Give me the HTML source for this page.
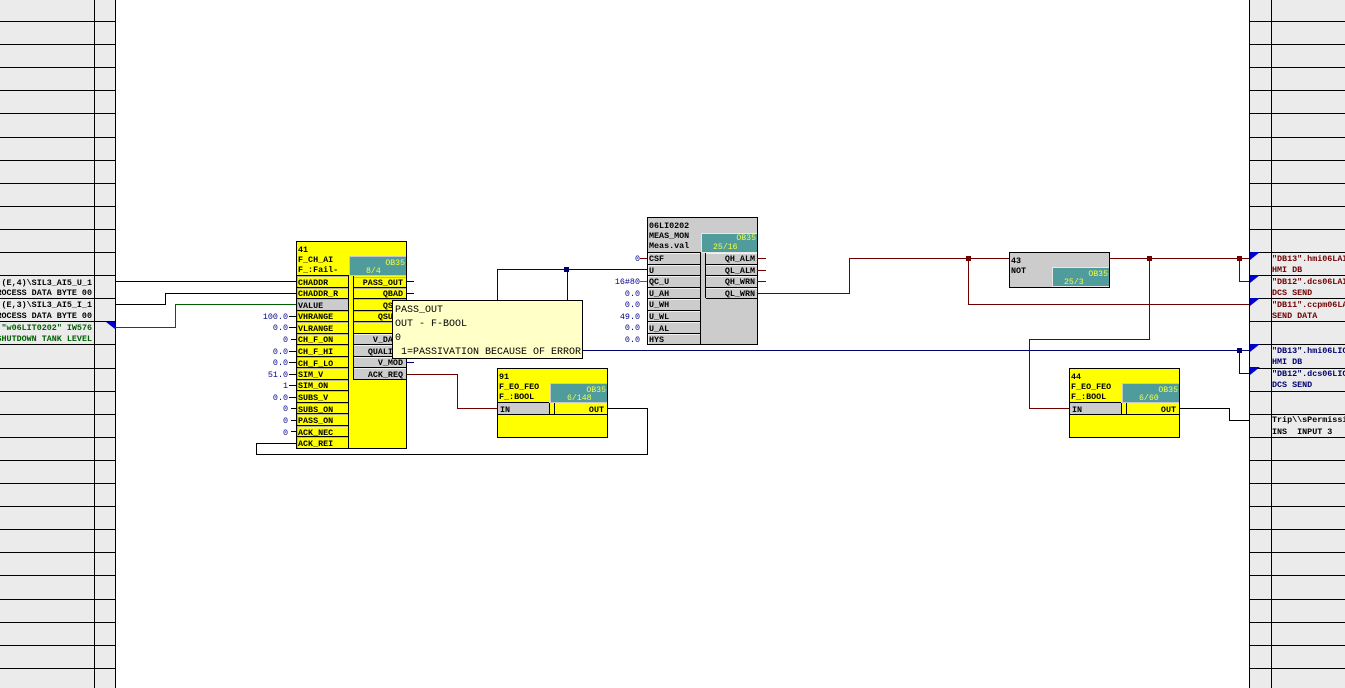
<!DOCTYPE html>
<html>
<head>
<meta charset="utf-8">
<style>
html,body{margin:0;padding:0;background:#fff;overflow:hidden}
svg{display:block;position:absolute;left:0;top:0}
text{font-family:"Liberation Mono",monospace;font-size:8.4px;white-space:pre}
.b{font-weight:bold;fill:#000}
.n{fill:#000}
.v{fill:#000090;text-anchor:end}
.e{text-anchor:end}
.ob{fill:#f4ff40;font-size:8.2px}
.tt{font-size:10px;fill:#000}
.grn{fill:#006000;font-weight:bold}
.red{fill:#700000;font-weight:bold}
.blu{fill:#000070;font-weight:bold}
.l{fill:none;stroke-width:1;shape-rendering:crispEdges}
</style>
</head>
<body>
<svg width="1345" height="688" viewBox="0 0 1345 688" xmlns="http://www.w3.org/2000/svg">
<rect width="1345" height="688" fill="#fff"/>
<rect x="0" y="0" width="115" height="688" fill="#ebebeb"/>
<rect x="1250" y="0" width="95" height="688" fill="#ebebeb"/>
<path class="l" stroke="#000" d="M94.5 0V688M115.5 0V688M1249.5 0V688M1271.5 0V688"/>
<path class="l" stroke="#000" d="M0 21.5H115M0 44.5H115M0 67.5H115M0 90.5H115M0 113.5H115M0 137.5H115M0 160.5H115M0 183.5H115M0 206.5H115M0 229.5H115M0 252.5H115M0 275.5H115M0 298.5H115M0 321.5H115M0 344.5H115M0 368.5H115M0 391.5H115M0 414.5H115M0 437.5H115M0 460.5H115M0 483.5H115M0 506.5H115M0 529.5H115M0 552.5H115M0 575.5H115M0 599.5H115M0 622.5H115M0 645.5H115M0 668.5H115"/>
<path class="l" stroke="#000" d="M1249 21.5H1345M1249 44.5H1345M1249 67.5H1345M1249 90.5H1345M1249 113.5H1345M1249 137.5H1345M1249 160.5H1345M1249 183.5H1345M1249 206.5H1345M1249 229.5H1345M1249 252.5H1345M1249 275.5H1345M1249 298.5H1345M1249 321.5H1345M1249 344.5H1345M1249 368.5H1345M1249 391.5H1345M1249 414.5H1345M1249 437.5H1345M1249 460.5H1345M1249 483.5H1345M1249 506.5H1345M1249 529.5H1345M1249 552.5H1345M1249 575.5H1345M1249 599.5H1345M1249 622.5H1345M1249 645.5H1345M1249 668.5H1345"/>

<!-- left labels -->
<text class="b e" x="92" y="285">0 (E,4)\SIL3_AI5_U_1</text>
<text class="b e" x="92" y="295">PROCESS DATA BYTE 00</text>
<text class="b e" x="92" y="307">0 (E,3)\SIL3_AI5_I_1</text>
<text class="b e" x="92" y="318">PROCESS DATA BYTE 00</text>
<text class="grn e" x="92" y="330">"w06LIT0202" IW576</text>
<text class="grn e" x="92" y="341">SHUTDOWN TANK LEVEL</text>

<!-- right labels -->
<text class="red" x="1272" y="261">"DB13".hmi06LAI</text>
<text class="red" x="1272" y="272">HMI DB</text>
<text class="red" x="1272" y="284">"DB12".dcs06LAI</text>
<text class="red" x="1272" y="295">DCS SEND</text>
<text class="red" x="1272" y="307">"DB11".ccpm06LA</text>
<text class="red" x="1272" y="318">SEND DATA</text>
<text class="blu" x="1272" y="353">"DB13".hmi06LIC</text>
<text class="blu" x="1272" y="364">HMI DB</text>
<text class="blu" x="1272" y="376">"DB12".dcs06LIC</text>
<text class="blu" x="1272" y="387">DCS SEND</text>
<text class="b" x="1272" y="422">Trip\\sPermissi</text>
<text class="b" x="1272" y="434">INS  INPUT 3</text>

<!-- wires -->
<path class="l" stroke="#000" d="M115 281.5H296M115 304.5H165.5V293.5H296"/>
<path class="l" stroke="#006000" d="M115 327.5H175.5V304.5H296"/>
<path class="l" stroke="#000" d="M607 408.5H647.5V454.5H256.5V443.5H296"/>
<path class="l" stroke="#700000" d="M406 374.5H457.5V408.5H497"/>
<path class="l" stroke="#000070" d="M497.5 300V269.5H647M567.5 269V300M583 350.5H1249M1239.5 350V373.5H1249"/>
<path class="l" stroke="#700000" d="M757 293.5H849.5V258.5H1009M968.5 258V304.5H1249M1109 258.5H1249M1239.5 258V281.5H1249M1149.5 258V339.5H1029.5V408.5H1069"/>
<path class="l" stroke="#000" d="M1179 408.5H1229.5V420.5H1249"/>

<!-- junctions -->
<rect x="564" y="267" width="5" height="5" fill="#000070"/>
<rect x="1237" y="348" width="5" height="5" fill="#000070"/>
<rect x="966" y="256" width="5" height="5" fill="#700000"/>
<rect x="1147" y="256" width="5" height="5" fill="#700000"/>
<rect x="1237" y="256" width="5" height="5" fill="#700000"/>

<!-- arrowheads -->
<path fill="#0000c8" d="M106 322H115V329ZM1250 252H1260L1250 260ZM1250 275H1260L1250 283ZM1250 298H1260L1250 306ZM1250 344H1260L1250 352ZM1250 367H1260L1250 375Z"/>

<!-- block 41 -->
<rect x="296.5" y="241.5" width="110" height="207" fill="#ff0" stroke="#000"/>
<rect x="349" y="256" width="57" height="20" fill="#c8c8c8"/>
<rect x="350" y="257" width="56" height="18" fill="#509b9b"/>
<text class="b" x="298" y="252">41</text>
<text class="b" x="298" y="262">F_CH_AI</text>
<text class="b" x="298" y="272">F_:Fail-</text>
<text class="ob e" x="405" y="265">OB35</text>
<text class="ob" x="366" y="273">8/4</text>
<rect x="297" y="300" width="51" height="10" fill="#ccc"/>
<rect x="354" y="334" width="52" height="45" fill="#ccc"/>
<path class="l" stroke="#b8b8a0" d="M297.5 276V448M297 276.5H348M297 288.5H348M297 299.5H348M297 311.5H348M297 322.5H348M297 334.5H348M297 345.5H348M297 357.5H348M297 368.5H348M297 380.5H348M297 391.5H348M297 403.5H348M297 414.5H348M297 426.5H348M297 437.5H348M354 277.5H406M354 288.5H406M354 299.5H406M354 311.5H406M354 322.5H406"/>
<path class="l" stroke="#f0f0f0" d="M354 334.5H406M354 345.5H406M354 357.5H406M354 368.5H406"/>
<path class="l" stroke="#000" d="M348.5 276V448M353.5 276V380M297 275.5H349M297 287.5H348M297 298.5H348M297 310.5H348M297 321.5H348M297 333.5H348M297 344.5H348M297 356.5H348M297 367.5H348M297 379.5H348M297 390.5H348M297 402.5H348M297 413.5H348M297 425.5H348M297 436.5H348M353 287.5H406M353 298.5H406M353 310.5H406M353 321.5H406M353 333.5H406M353 344.5H406M353 356.5H406M353 367.5H406M353 379.5H406"/>
<text class="b" x="298" y="285">CHADDR</text>
<text class="b" x="298" y="296">CHADDR_R</text>
<text class="b" x="298" y="308">VALUE</text>
<text class="b" x="298" y="319">VHRANGE</text>
<text class="b" x="298" y="331">VLRANGE</text>
<text class="b" x="298" y="342">CH_F_ON</text>
<text class="b" x="298" y="354">CH_F_HI</text>
<text class="b" x="298" y="366">CH_F_LO</text>
<text class="b" x="298" y="377">SIM_V</text>
<text class="b" x="298" y="388">SIM_ON</text>
<text class="b" x="298" y="400">SUBS_V</text>
<text class="b" x="298" y="412">SUBS_ON</text>
<text class="b" x="298" y="423">PASS_ON</text>
<text class="b" x="298" y="435">ACK_NEC</text>
<text class="b" x="298" y="446">ACK_REI</text>
<text class="b e" x="403" y="285">PASS_OUT</text>
<text class="b e" x="403" y="296">QBAD</text>
<text class="b e" x="403" y="308">QSIM</text>
<text class="b e" x="403" y="319">QSUBS</text>
<text class="b e" x="403" y="342">V_DATA</text>
<text class="b e" x="403" y="354">QUALITY</text>
<text class="b e" x="403" y="365">V_MOD</text>
<text class="b e" x="403" y="377">ACK_REQ</text>
<path class="l" stroke="#000" d="M406 281.5H414M406 293.5H414"/>
<path class="l" stroke="#000070" d="M406 362.5H414"/>
<path class="l" stroke="#000" d="M289 316.5H296M289 327.5H296M291 339.5H296M289 351.5H296M289 362.5H296M289 374.5H296M289 385.5H296M289 397.5H296M291 408.5H296M291 420.5H296M291 431.5H296"/>
<text class="v" x="288" y="319">100.0</text>
<text class="v" x="288" y="330">0.0</text>
<text class="v" x="288" y="342">0</text>
<text class="v" x="288" y="354">0.0</text>
<text class="v" x="288" y="365">0.0</text>
<text class="v" x="288" y="377">51.0</text>
<text class="v" x="288" y="388">1</text>
<text class="v" x="288" y="400">0.0</text>
<text class="v" x="288" y="411">0</text>
<text class="v" x="288" y="423">0</text>
<text class="v" x="288" y="435">0</text>

<!-- tooltip -->
<rect x="392.5" y="300.5" width="190" height="58" fill="#ffffc8" stroke="#000" shape-rendering="crispEdges"/>
<text class="tt" x="395" y="312">PASS_OUT</text>
<text class="tt" x="395" y="326">OUT - F-BOOL</text>
<text class="tt" x="395" y="340">0</text>
<text class="tt" x="395" y="354"> 1=PASSIVATION BECAUSE OF ERROR</text>

<!-- block 91 -->
<rect x="497.5" y="368.5" width="110" height="69" fill="#ff0" stroke="#000" shape-rendering="crispEdges"/>
<rect x="550" y="383" width="57" height="20" fill="#c8c8c8"/>
<rect x="551" y="384" width="56" height="18" fill="#509b9b"/>
<rect x="498" y="403" width="51" height="11" fill="#ccc"/>
<path class="l" stroke="#000" d="M498 402.5H549M554 414.5H607M498 414.5H607M549.5 403V415M554.5 403V415"/>
<text class="b" x="499" y="379">91</text>
<text class="b" x="499" y="389">F_EO_FEO</text>
<text class="b" x="499" y="399">F_:BOOL</text>
<text class="b" x="500" y="412">IN</text>
<text class="b e" x="604" y="412">OUT</text>
<text class="ob e" x="606" y="392">OB35</text>
<text class="ob" x="567" y="400">6/148</text>

<!-- block 06LI0202 -->
<rect x="647.5" y="217.5" width="110" height="127" fill="#ccc" stroke="#000" shape-rendering="crispEdges"/>
<rect x="701" y="233" width="56" height="20" fill="#e8e8e8"/>
<rect x="702" y="234" width="55" height="18" fill="#509b9b"/>
<path class="l" stroke="#f0f0f0" d="M648.5 253V344M648 253.5H700M648 265.5H700M648 276.5H700M648 288.5H700M648 299.5H700M648 311.5H700M648 322.5H700M648 334.5H700M706 253.5H757M706 265.5H757M706 276.5H757M706 288.5H757"/>
<path class="l" stroke="#000" d="M700.5 252V344M705.5 253V298M648 252.5H701M648 264.5H700M648 275.5H700M648 287.5H700M648 298.5H700M648 310.5H700M648 321.5H700M648 333.5H700M706 264.5H757M706 275.5H757M706 287.5H757M706 298.5H757"/>
<text class="b" x="649" y="228">06LI0202</text>
<text class="b" x="649" y="238">MEAS_MON</text>
<text class="b" x="649" y="248">Meas.val</text>
<text class="ob e" x="756" y="240">OB35</text>
<text class="ob" x="713" y="249">25/16</text>
<text class="b" x="649" y="261">CSF</text>
<text class="b" x="649" y="273">U</text>
<text class="b" x="649" y="284">QC_U</text>
<text class="b" x="649" y="296">U_AH</text>
<text class="b" x="649" y="307">U_WH</text>
<text class="b" x="649" y="319">U_WL</text>
<text class="b" x="649" y="331">U_AL</text>
<text class="b" x="649" y="342">HYS</text>
<text class="b e" x="755" y="261">QH_ALM</text>
<text class="b e" x="755" y="273">QL_ALM</text>
<text class="b e" x="755" y="284">QH_WRN</text>
<text class="b e" x="755" y="296">QL_WRN</text>
<path class="l" stroke="#700000" d="M757 258.5H766M757 270.5H766M757 281.5H766M640 258.5H647"/>
<path class="l" stroke="#806000" d="M640 281.5H647"/>
<text class="v" x="640" y="261">0</text>
<text class="v" x="640" y="284">16#80</text>
<text class="v" x="640" y="296">0.0</text>
<text class="v" x="640" y="307">0.0</text>
<text class="v" x="640" y="319">49.0</text>
<text class="v" x="640" y="330">0.0</text>
<text class="v" x="640" y="342">0.0</text>

<!-- NOT block -->
<rect x="1009.5" y="252.5" width="100" height="35" fill="#ccc" stroke="#000" shape-rendering="crispEdges"/>
<rect x="1052" y="267" width="57" height="20" fill="#e8e8e8"/>
<rect x="1053" y="268" width="56" height="18" fill="#509b9b"/>
<text class="b" x="1011" y="263">43</text>
<text class="b" x="1011" y="273">NOT</text>
<text class="ob e" x="1108" y="276">OB35</text>
<text class="ob" x="1064" y="284">25/3</text>

<!-- block 44 -->
<rect x="1069.5" y="368.5" width="110" height="69" fill="#ff0" stroke="#000" shape-rendering="crispEdges"/>
<rect x="1122" y="383" width="57" height="20" fill="#c8c8c8"/>
<rect x="1123" y="384" width="56" height="18" fill="#509b9b"/>
<rect x="1070" y="403" width="51" height="11" fill="#ccc"/>
<path class="l" stroke="#000" d="M1070 402.5H1121M1126 414.5H1179M1070 414.5H1179M1121.5 403V415M1126.5 403V415"/>
<text class="b" x="1071" y="379">44</text>
<text class="b" x="1071" y="389">F_EO_FEO</text>
<text class="b" x="1071" y="399">F_:BOOL</text>
<text class="b" x="1072" y="412">IN</text>
<text class="b e" x="1176" y="412">OUT</text>
<text class="ob e" x="1178" y="392">OB35</text>
<text class="ob" x="1139" y="400">6/60</text>
</svg>
</body>
</html>
